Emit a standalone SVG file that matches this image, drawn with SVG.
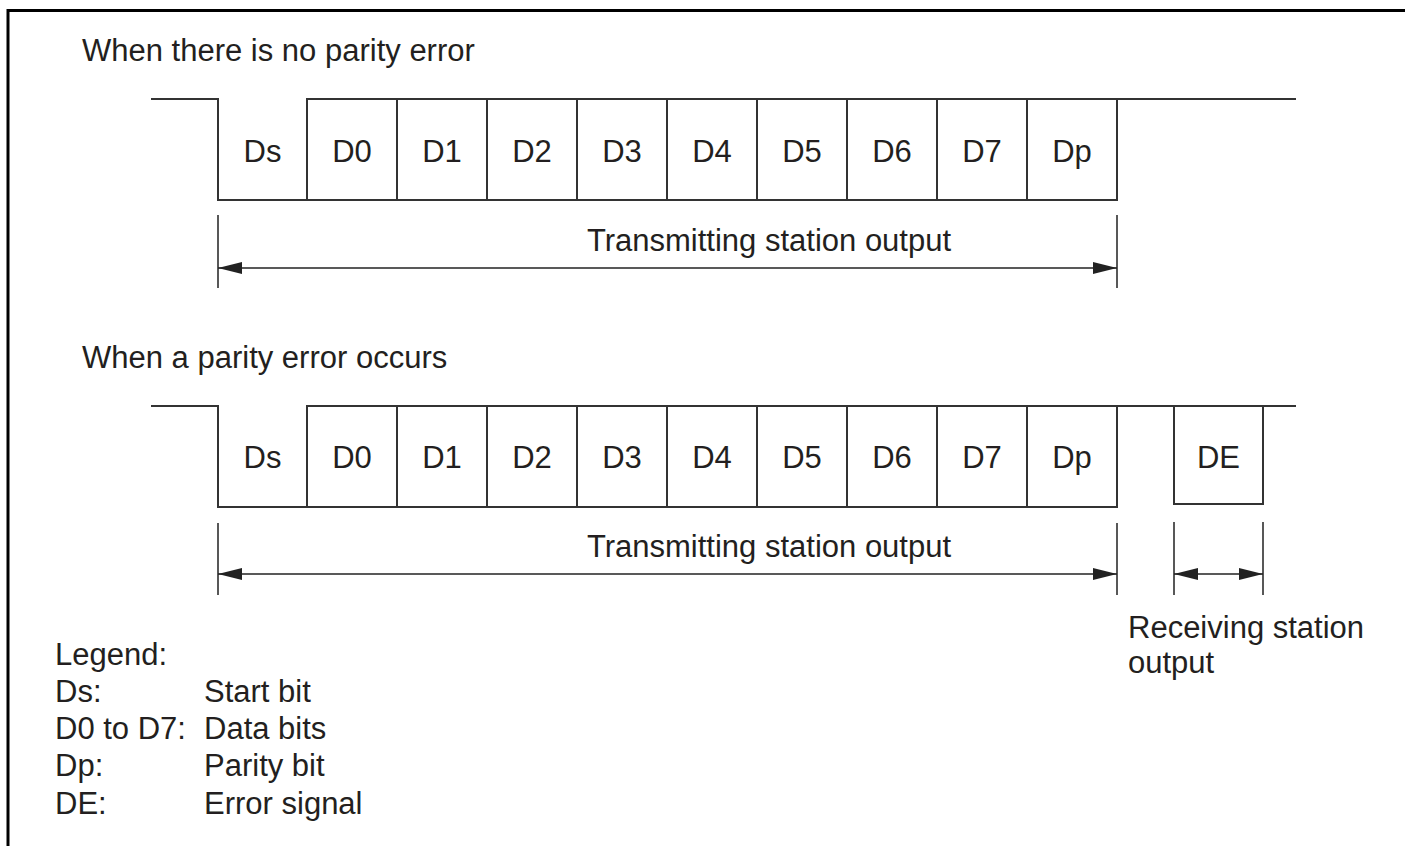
<svg xmlns="http://www.w3.org/2000/svg" width="1405" height="846" viewBox="0 0 1405 846">
<style>
text{font-family:"Liberation Sans",Arial,Helvetica,sans-serif;font-size:31px;fill:#231f20}
.c{text-anchor:middle}
.w{fill:none;stroke:#333;stroke-width:2}
.d{fill:none;stroke:#222;stroke-width:1.5}
</style>
<defs>
<marker id="ah" viewBox="0 0 24 12" refX="24" refY="6" markerWidth="24" markerHeight="12" markerUnits="userSpaceOnUse" orient="auto-start-reverse">
<path d="M0,0 L24,6 L0,12 Z" fill="#222"/>
</marker>
</defs>
<rect width="1405" height="846" fill="#fff"/>
<path d="M8,846 V10.5 H1405" fill="none" stroke="#000" stroke-width="3"/>

<g id="top">
<text x="82" y="61">When there is no parity error</text>
<path class="w" d="M151,99 H218 V200 H1117 V99 M307,200 V99 H1296"/>
<path class="w" d="M397,99 V200 M487,99 V200 M577,99 V200 M667,99 V200 M757,99 V200 M847,99 V200 M937,99 V200 M1027,99 V200"/>
<text x="262.5" y="162" class="c">Ds</text>
<text x="352" y="162" class="c">D0</text>
<text x="442" y="162" class="c">D1</text>
<text x="532" y="162" class="c">D2</text>
<text x="622" y="162" class="c">D3</text>
<text x="712" y="162" class="c">D4</text>
<text x="802" y="162" class="c">D5</text>
<text x="892" y="162" class="c">D6</text>
<text x="982" y="162" class="c">D7</text>
<text x="1072" y="162" class="c">Dp</text>
</g>

<g id="bottom">
<text x="82" y="368">When a parity error occurs</text>
<path class="w" d="M151,406 H218 V507 H1117 V406 M307,507 V406 H1296"/>
<path class="w" d="M397,406 V507 M487,406 V507 M577,406 V507 M667,406 V507 M757,406 V507 M847,406 V507 M937,406 V507 M1027,406 V507"/>
<path class="w" d="M1174,406 V504 H1263 V406"/>
<text x="262.5" y="468" class="c">Ds</text>
<text x="352" y="468" class="c">D0</text>
<text x="442" y="468" class="c">D1</text>
<text x="532" y="468" class="c">D2</text>
<text x="622" y="468" class="c">D3</text>
<text x="712" y="468" class="c">D4</text>
<text x="802" y="468" class="c">D5</text>
<text x="892" y="468" class="c">D6</text>
<text x="982" y="468" class="c">D7</text>
<text x="1072" y="468" class="c">Dp</text>
<text x="1218.5" y="468" class="c">DE</text>
</g>

<g id="connectors">
<path class="d" d="M218,215 V288 M1117,215 V288"/>
<line class="d" x1="218" y1="268" x2="1117" y2="268" marker-start="url(#ah)" marker-end="url(#ah)"/>
<path class="d" d="M218,523 V595 M1117,523 V595 M1174,522 V595 M1263,522 V595"/>
<line class="d" x1="218" y1="574" x2="1117" y2="574" marker-start="url(#ah)" marker-end="url(#ah)"/>
<line class="d" x1="1174" y1="574" x2="1263" y2="574" marker-start="url(#ah)" marker-end="url(#ah)"/>
</g>

<g id="labels">
<text x="769" y="251" class="c">Transmitting station output</text>
<text x="769" y="557" class="c">Transmitting station output</text>
<text x="1128" y="638">Receiving station</text>
<text x="1128" y="673">output</text>
</g>

<g id="legend">
<text x="55" y="665">Legend:</text>
<text x="55" y="702">Ds:</text>
<text x="204" y="702">Start bit</text>
<text x="55" y="739">D0 to D7:</text>
<text x="204" y="739">Data bits</text>
<text x="55" y="776">Dp:</text>
<text x="204" y="776">Parity bit</text>
<text x="55" y="814">DE:</text>
<text x="204" y="814">Error signal</text>
</g>
</svg>
